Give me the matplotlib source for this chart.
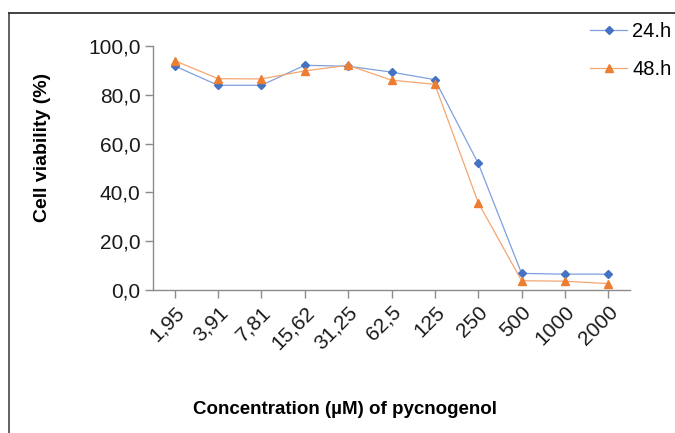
import matplotlib
matplotlib.use("Agg")
import matplotlib.pyplot as plt
from matplotlib.lines import Line2D

plt.rcParams['font.family'] = ['Liberation Sans', 'DejaVu Sans']

concentrations = ["1,95", "3,91", "7,81", "15,62", "31,25", "62,5", "125", "250", "500", "1000", "2000"]
viability_24h = [91.8, 83.9, 83.9, 92.1, 91.7, 89.3, 86.2, 51.9, 6.8, 6.5, 6.5]
viability_48h = [94.0, 86.6, 86.5, 89.8, 92.1, 86.0, 84.3, 35.8, 3.8, 3.6, 2.6]
series_labels = ["24.h", "48.h"]
yticks = [0, 20, 40, 60, 80, 100]

fig = plt.figure(figsize=(6.75, 4.33), dpi=100)
ax = fig.add_axes([153/675, 1-290/433, (630-153)/675, (290-46)/433])

x = list(range(len(concentrations)))
blue = '#4472C4'
orange = '#ED7D31'
l1, = ax.plot(x, viability_24h, color='#7fa0dd', lw=0.9, marker='D', ms=4.2, mec=blue, mfc=blue)
l2, = ax.plot(x, viability_48h, color='#f4a672', lw=0.9, marker='^', ms=6, mec=orange, mfc=orange)

ax.set_xlim(-0.5, len(concentrations)-0.5)
ax.set_ylim(0, 100)
ax.set_yticks(yticks)
ax.set_yticklabels([f"{v:.1f}".replace('.', ',') for v in yticks], fontsize=15, color='#1a1a1a')
ax.set_xticks(x)
ax.set_xticklabels(concentrations, rotation=45, ha='right', rotation_mode='anchor', fontsize=15, color='#1a1a1a')
for s in ['top', 'right']:
    ax.spines[s].set_visible(False)
for s in ['left', 'bottom']:
    ax.spines[s].set_color('#8c8c8c')
    ax.spines[s].set_linewidth(1.0)
ax.tick_params(axis='both', direction='out', length=6, width=1.0, color='#8c8c8c', pad=3)

fig.text(43/675, 1-147/433, "Cell viability (%)", rotation=90, ha='center', va='center',
         fontsize=14, fontweight='bold')
fig.text(345/675, 1-410/433, "Concentration (µM) of pycnogenol", ha='center', va='center',
         fontsize=13.5, fontweight='bold')

leg = fig.legend([l1, l2], series_labels, loc='upper left', bbox_to_anchor=(584/675, 1-16/433),
                 frameon=False, fontsize=14.5, handlelength=1.85, handletextpad=0.25,
                 labelspacing=0.95, borderaxespad=0, borderpad=0.3)

# figure frame (top and left edges)
fig.add_artist(Line2D([8.5/675, 8.5/675], [0, 1-13/433], transform=fig.transFigure, color='#555555', lw=1.3))
fig.add_artist(Line2D([8.5/675, 1], [1-13/433, 1-13/433], transform=fig.transFigure, color='#333333', lw=1.3))

fig.savefig("out.png", dpi=100)
